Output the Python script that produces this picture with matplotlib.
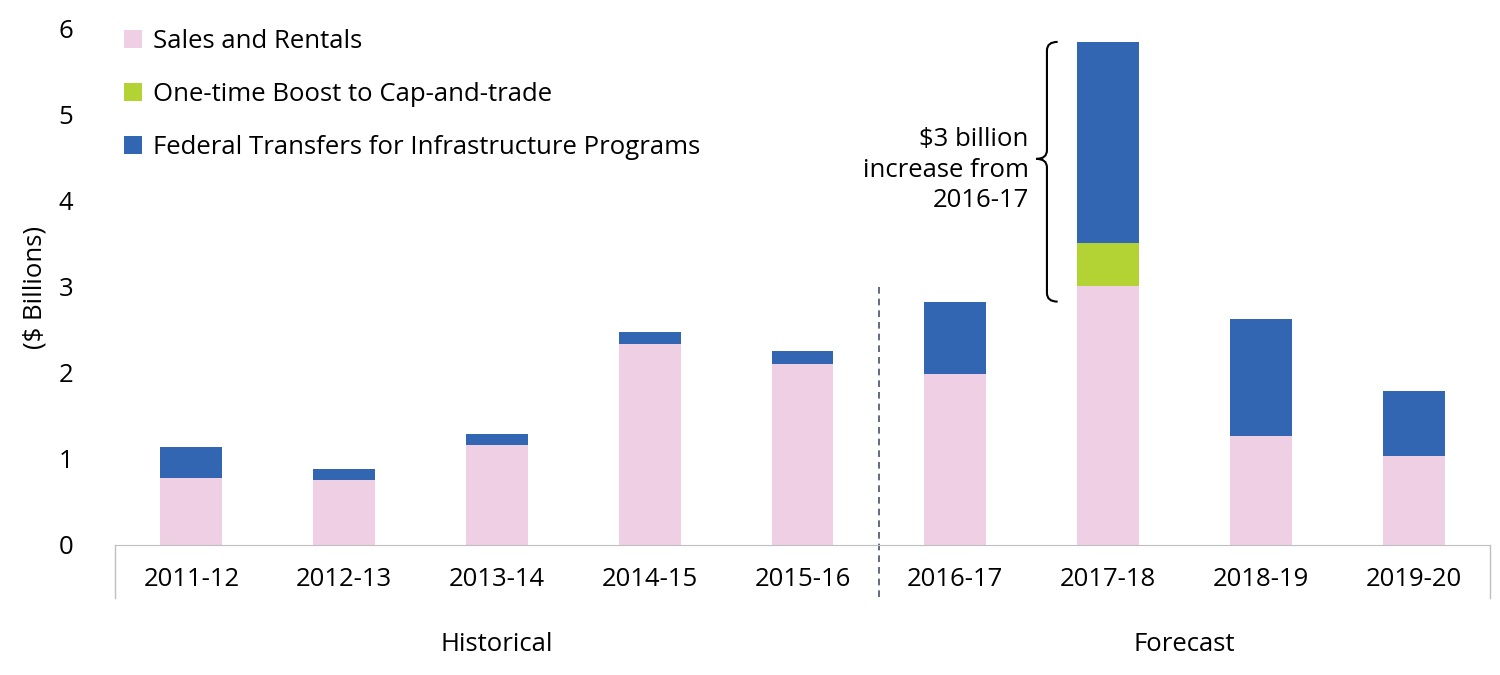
import matplotlib.pyplot as plt
import numpy as np
from matplotlib.path import Path
from matplotlib.patches import PathPatch

plt.rcParams['font.family'] = ['Open Sans', 'DejaVu Sans']

years = ['2011-12', '2012-13', '2013-14', '2014-15', '2015-16',
         '2016-17', '2017-18', '2018-19', '2019-20']
sales = [0.78, 0.76, 1.16, 2.34, 2.10, 1.99, 3.01, 1.27, 1.03]
boost = [0, 0, 0, 0, 0, 0, 0.50, 0, 0]
federal = [0.36, 0.12, 0.13, 0.14, 0.16, 0.84, 2.34, 1.36, 0.76]

pink = '#eecfe3'
green = '#b3d335'
blue = '#3366b2'
fs = 18.5

fig = plt.figure(figsize=(15, 6.75), dpi=100)
ax = fig.add_axes([115/1500, 1-545/675, 1375/1500, 516/675])
x = np.arange(len(years))
w = 0.405
ax.bar(x, sales, w, color=pink, label='Sales and Rentals')
ax.bar(x, boost, w, bottom=sales, color=green, label='One-time Boost to Cap-and-trade')
ax.bar(x, federal, w, bottom=np.array(sales)+np.array(boost), color=blue,
       label='Federal Transfers for Infrastructure Programs')

ax.set_xlim(-0.5, 8.5)
ax.set_ylim(0, 6)
ax.set_yticks(range(7))
ax.set_xticks(x, years)
ax.tick_params(axis='both', length=0, labelsize=fs, colors='black')
ax.tick_params(axis='x', pad=16)
ax.tick_params(axis='y', pad=30)
for s in ['top', 'right', 'left']:
    ax.spines[s].set_visible(False)
ax.spines['bottom'].set_color('#bfbfbf')
ax.set_ylabel('($ Billions)', fontsize=fs, labelpad=8)

# group separators
for xv in [-0.5, 8.5]:
    ax.plot([xv, xv], [0, -0.62], color='#bfbfbf', lw=1, clip_on=False)
ax.plot([4.5, 4.5], [3.0, -0.62], color='#44546a', lw=1.2, ls=(0, (4, 3)), clip_on=False)
ax.text(2, -1.16, 'Historical', ha='center', va='center', fontsize=fs)
ax.text(6.5, -1.16, 'Forecast', ha='center', va='center', fontsize=fs)

# brace
bx, y0, y1 = 5.6, 2.83, 5.85
ym = (y0 + y1) / 2 + 0.15
d = 0.07
verts = [(bx+d, y1), (bx, y1), (bx, y1-0.1),
         (bx, ym+0.1), (bx, ym), (bx-d, ym),
         (bx, ym), (bx, ym-0.1),
         (bx, y0+0.1), (bx, y0), (bx+d, y0)]
codes = [Path.MOVETO, Path.CURVE3, Path.CURVE3,
         Path.LINETO, Path.CURVE3, Path.CURVE3,
         Path.CURVE3, Path.CURVE3,
         Path.LINETO, Path.CURVE3, Path.CURVE3]
ax.add_patch(PathPatch(Path(verts, codes), fill=False, lw=1.5, color='black', clip_on=False))
ax.text(5.48, 4.36, '$3 billion\nincrease from\n2016-17', ha='right', va='center',
        fontsize=fs, linespacing=1.3)

ax.legend(loc='upper left', bbox_to_anchor=(-0.01, 1.045), frameon=False, fontsize=fs,
          handlelength=0.7, handleheight=0.7, labelspacing=1.1, handletextpad=0.4)

fig.savefig('out.png', dpi=100)
